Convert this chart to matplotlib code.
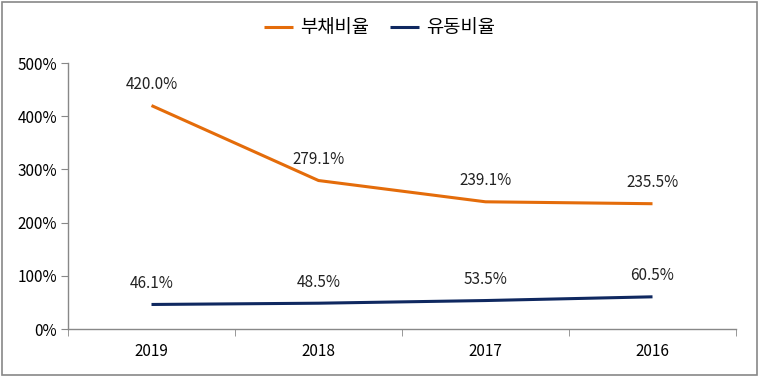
import matplotlib
matplotlib.use('Agg')
import matplotlib.pyplot as plt
from matplotlib.patches import Rectangle

plt.rcParams['font.family'] = ['Noto Sans CJK KR', 'DejaVu Sans']

years = ['2019', '2018', '2017', '2016']
debt_ratio = [420.0, 279.1, 239.1, 235.5]
current_ratio = [46.1, 48.5, 53.5, 60.5]
series_names = ['부채비율', '유동비율']

orange = '#E46C0A'
navy = '#0F2860'

fig = plt.figure(figsize=(7.59, 3.77), dpi=100)
ax = fig.add_axes([68/759, 1-329/377, 668/759, 266/377])

x = list(range(len(years)))
ax.plot(x, debt_ratio, color=orange, lw=2.2, label=series_names[0], solid_capstyle='butt')
ax.plot(x, current_ratio, color=navy, lw=2.2, label=series_names[1], solid_capstyle='butt')

for xi, v in zip(x, debt_ratio):
    ax.annotate('%.1f%%' % v, (xi, v), xytext=(0, 15), textcoords='offset points',
                ha='center', va='center', fontsize=11, color='#222222')
for xi, v in zip(x, current_ratio):
    ax.annotate('%.1f%%' % v, (xi, v), xytext=(0, 15), textcoords='offset points',
                ha='center', va='center', fontsize=11, color='#222222')

ax.set_xlim(-0.5, 3.5)
ax.set_ylim(0, 500)
ax.set_yticks([0, 100, 200, 300, 400, 500])
ax.set_yticklabels(['%d%%' % t for t in [0, 100, 200, 300, 400, 500]], fontsize=11)
ax.set_xticks(x)
ax.set_xticklabels(years, fontsize=11)
ax.set_xticks([-0.5, 0.5, 1.5, 2.5, 3.5], minor=True)
ax.tick_params(axis='x', which='major', length=0, pad=10)
ax.tick_params(axis='x', which='minor', length=5, color='#888888', direction='out')
ax.tick_params(axis='y', length=5, color='#888888', direction='out', pad=3)

for s in ['top', 'right']:
    ax.spines[s].set_visible(False)
for s in ['left', 'bottom']:
    ax.spines[s].set_color('#888888')
    ax.spines[s].set_linewidth(1)

fig.legend(loc='center', bbox_to_anchor=(0.5, 1-28/377), ncol=2, frameon=False,
           fontsize=13.5, handlelength=1.55, columnspacing=1.1, handletextpad=0.4)

fig.patches.append(Rectangle((2/759, 2/377), 755/759, 373/377, transform=fig.transFigure,
                             fill=False, edgecolor='#888888', lw=1.2))

fig.savefig('out.png', dpi=100)
